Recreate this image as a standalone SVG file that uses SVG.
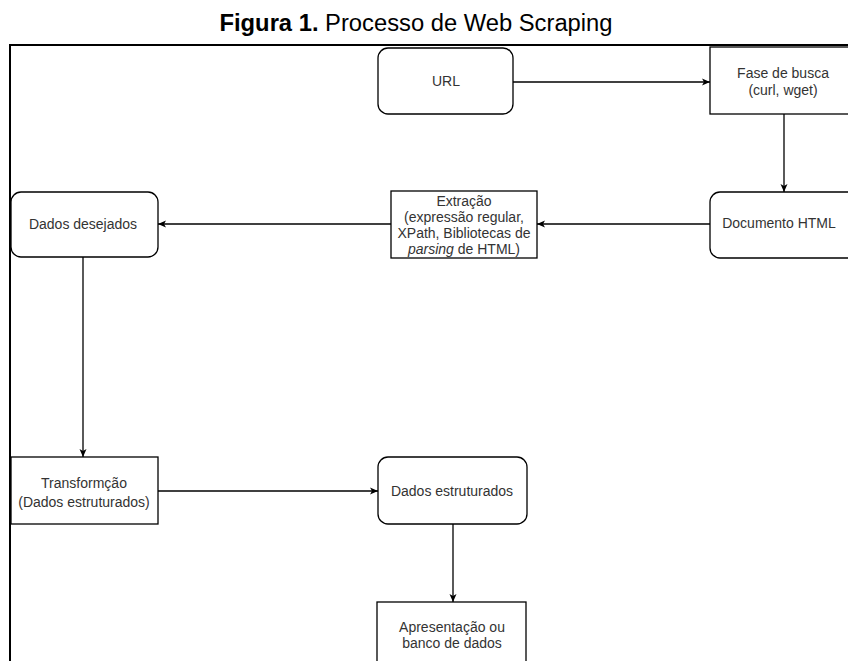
<svg xmlns="http://www.w3.org/2000/svg" width="848" height="661" viewBox="0 0 848 661">
<style>
.box{fill:#fff;stroke:#000;stroke-width:1.3}
.t{font-family:"Liberation Sans",Arial,sans-serif;font-size:14px;fill:#333;text-anchor:middle}
.c{fill:none;stroke:#000;stroke-width:1.3}
</style>
<defs>
<marker id="a" markerWidth="10" markerHeight="8" refX="8" refY="4" orient="auto" markerUnits="userSpaceOnUse">
<path d="M0,0.5 L8,4 L0,7.5 L2,4 z" fill="#000"/>
</marker>
</defs>
<rect width="848" height="661" fill="#fff"/>
<text x="416" y="31" font-family="'Liberation Sans',Arial,sans-serif" font-size="23" text-anchor="middle" fill="#000" textLength="393" lengthAdjust="spacingAndGlyphs"><tspan font-weight="bold">Figura 1.</tspan> Processo de Web Scraping</text>
<path d="M10,661 V45 H848" fill="none" stroke="#000" stroke-width="2"/>
<g id="url"><rect class="box" x="378" y="48" width="135" height="66" rx="10"/><text class="t" x="446" y="86">URL</text></g>
<g id="fase"><rect class="box" x="710" y="47" width="150" height="67"/><text class="t" x="783" y="78">Fase de busca</text><text class="t" x="783" y="95">(curl, wget)</text></g>
<g id="documento"><rect class="box" x="710" y="192" width="150" height="66" rx="10"/><text class="t" x="779" y="228">Documento HTML</text></g>
<g id="extracao"><rect class="box" x="391" y="191" width="146" height="67"/><text class="t" x="464" y="206">Extração</text><text class="t" x="464" y="222">(expressão regular,</text><text class="t" x="464" y="238">XPath, Bibliotecas de</text><text class="t" x="464" y="254"><tspan font-style="italic">parsing</tspan> de HTML)</text></g>
<g id="desejados"><rect class="box" x="11" y="192" width="147" height="65" rx="10"/><text class="t" x="83" y="229">Dados desejados</text></g>
<g id="transformacao"><rect class="box" x="11" y="457" width="147" height="67"/><text class="t" x="84" y="488">Transformção</text><text class="t" x="84" y="507">(Dados estruturados)</text></g>
<g id="estruturados"><rect class="box" x="378" y="457" width="149" height="67" rx="10"/><text class="t" x="452" y="496">Dados estruturados</text></g>
<g id="apresentacao"><rect class="box" x="377" y="602" width="149" height="80"/><text class="t" x="452" y="632">Apresentação ou</text><text class="t" x="452" y="648">banco de dados</text></g>
<g id="connectors">
<path class="c" d="M513,82 H710" marker-end="url(#a)"/>
<path class="c" d="M784,114 V192" marker-end="url(#a)"/>
<path class="c" d="M710,224 H537" marker-end="url(#a)"/>
<path class="c" d="M391,224 H158" marker-end="url(#a)"/>
<path class="c" d="M83,257 V457" marker-end="url(#a)"/>
<path class="c" d="M158,491 H378" marker-end="url(#a)"/>
<path class="c" d="M453,524 V602" marker-end="url(#a)"/>
</g>
</svg>
